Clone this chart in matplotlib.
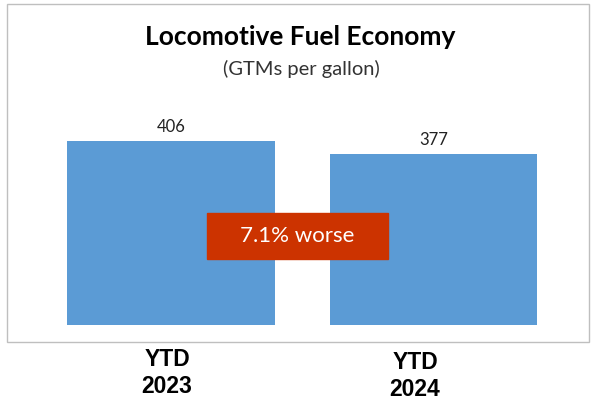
import matplotlib
matplotlib.use("Agg")
import matplotlib.pyplot as plt
from matplotlib.patches import Rectangle

# chart data
categories = ["YTD\n2023", "YTD\n2024"]
values = [406, 377]
title = "Locomotive Fuel Economy"
subtitle = "(GTMs per gallon)"
callout = "7.1% worse"

BAR_COLOR = "#5B9BD5"
CALLOUT_COLOR = "#CC3300"
W, H = 593, 409

fig = plt.figure(figsize=(W / 100, H / 100), dpi=100)
fig.patch.set_facecolor("white")

# axes cover the whole figure, limits chosen so bars land where the original has them
ax = fig.add_axes([0, 0, 1, 1])
ax.set_xlim(-0.651, 1.608)
ax.set_ylim(-185.4, 717.4)
ax.axis("off")

x = list(range(len(values)))
ax.bar(x, values, width=0.79, color=BAR_COLOR)
for xi, v in zip(x, values):
    ax.text(xi, v + 14, str(v), ha="center", va="bottom",
            fontsize=12, family="Lato", color="#222222")

# frame round the chart area
fig.patches.append(Rectangle((7 / W, 1 - 342 / H), 582 / W, 338 / H,
                             transform=fig.transFigure, fill=False,
                             edgecolor="#BFBFBF", linewidth=1))

fig.text(300 / W, 1 - 37 / H, title, ha="center", va="center",
         fontsize=19, fontweight="bold", family="Lato")
fig.text(301 / W, 1 - 69 / H, subtitle, ha="center", va="center",
         fontsize=14.5, family="Lato", color="#333333")

# callout box
fig.patches.append(Rectangle((207 / W, 1 - 259 / H), 181 / W, 46 / H,
                             transform=fig.transFigure, color=CALLOUT_COLOR))
fig.text(297 / W, 1 - 236 / H, callout, ha="center", va="center",
         fontsize=16, family="Lato", color="white")

# category labels sit under the frame
for px, py, lab in zip([167, 415], [373, 376], categories):
    fig.text(px / W, 1 - py / H, lab, ha="center", va="center",
             fontsize=16.5, fontweight="bold", family="Liberation Sans",
             linespacing=1.2)

fig.savefig("out.png", dpi=100)
